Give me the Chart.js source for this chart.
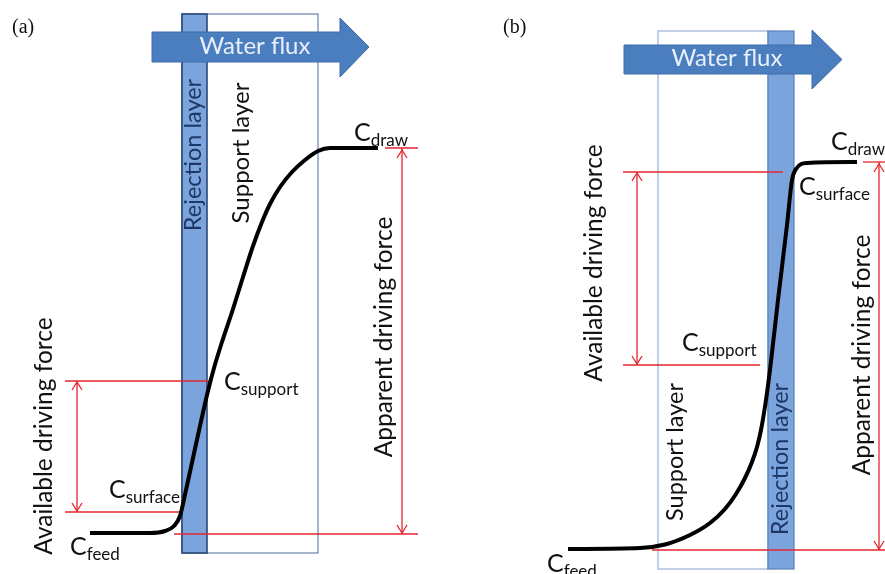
<!DOCTYPE html>
<html>
<head>
<meta charset="utf-8">
<script src="https://cdn.jsdelivr.net/npm/chart.js@4/dist/chart.umd.min.js"></script>
<style>
  html, body { margin: 0; padding: 0; background: #fff; }
  #wrap { width: 885px; height: 574px; position: relative; }
</style>
</head>
<body>
<div id="wrap"><canvas id="diagram"></canvas></div>
<script>
// ===== Data (page units: x = position across membrane, y = concentration level, down = lower) =====
const curveAX = [90,150,165,174,180,186,193,200,207,214,222,233,243,253,262,270,280,292,305,318,330,378];
const curveAY = [533,533,531,526,516,490,458,426,395,368,342,309,277,246,222,204,187,172,160,151,148,148];

const curveBX = [568,640,665,690,710,725,736,745,752,757,761,764,767,770,778,787,792,796,807,857];
const curveBY = [549,548,544.5,535,523,509,494,478,462,447,430,413,393,370,300,225,180,169,163,162];

// guide lines [x1, y1, x2, y2]
const guidesA = [[385,148,418,148],[402,148,402,534],[174,534,418,534],[65,381,209,381],[65,512,182,512],[77,381,77,512]];
const guidesB = [[863,162,885,162],[879,162,879,550],[652,550,885,550],[623,172,783,172],[623,365,760,365],[637,172,637,365]];

// double-headed arrows [x, yTop, yBottom]
const spansA = [[402,150,533],[77,382,511]];
const spansB = [[879,164,549],[637,173,364]];

// layers [x1, x2, yTop, yBottom]
const supportA = [182,318,14,553];
const rejectA  = [182,207,14,553];
const supportB = [658,768,31,569];
const rejectB  = [768,794,31,569];

// water flux arrows [bodyLeft, bodyRight, bodyTop, bodyBottom, tipX, headTop, headBottom]
const fluxA = [152,340,32,62,369,18,77];
const fluxB = [624,812,45,74,842,30,89];

const RED = '#e3262e';
const FONT = 'Lato, "Open Sans", sans-serif';

function pts(xs, ys) { return xs.map((x, i) => ({ x: x, y: ys[i] })); }

const guideSets = guidesA.concat(guidesB).map(g => ({
  data: [{ x: g[0], y: g[1] }, { x: g[2], y: g[3] }],
  showLine: true, borderColor: RED, borderWidth: 1.3, pointRadius: 0, order: 2
}));

// ===== Drawing helpers =====
function rotText(ctx, txt, x, y, size, color) {
  ctx.save();
  ctx.translate(x, y);
  ctx.rotate(-Math.PI / 2);
  ctx.font = size + 'px ' + FONT;
  ctx.fillStyle = color;
  ctx.textAlign = 'center';
  ctx.textBaseline = 'alphabetic';
  ctx.fillText(txt, 0, 0);
  ctx.restore();
}

function cLabel(ctx, sub, x, y) {
  ctx.save();
  ctx.fillStyle = '#111';
  ctx.textAlign = 'left';
  ctx.textBaseline = 'alphabetic';
  ctx.font = '25px ' + FONT;
  ctx.fillText('C', x, y);
  const w = ctx.measureText('C').width;
  ctx.font = '17px ' + FONT;
  ctx.fillText(sub, x + w, y + 5);
  ctx.restore();
}

const diagramPlugin = {
  id: 'diagram',
  beforeDatasetsDraw(chart) {
    const ctx = chart.ctx;
    const sx = v => chart.scales.x.getPixelForValue(v);
    const sy = v => chart.scales.y.getPixelForValue(v);

    function layer(r, fill, stroke, lw) {
      const x = sx(r[0]), y = sy(r[2]), w = sx(r[1]) - x, h = sy(r[3]) - y;
      ctx.save();
      if (fill) { ctx.fillStyle = fill; ctx.fillRect(x, y, w, h); }
      ctx.strokeStyle = stroke; ctx.lineWidth = lw;
      ctx.strokeRect(x, y, w, h);
      ctx.restore();
    }
    layer(supportA, null, '#4b6a9b', 1);
    layer(rejectA, '#7ba3dc', '#2b4677', 1.6);
    layer(supportB, null, '#86a2cc', 1);
    layer(rejectB, '#7ba3dc', '#5a80b8', 1.2);

    function flux(f) {
      ctx.save();
      ctx.beginPath();
      ctx.moveTo(sx(f[0]), sy(f[2]));
      ctx.lineTo(sx(f[1]), sy(f[2]));
      ctx.lineTo(sx(f[1]), sy(f[5]));
      ctx.lineTo(sx(f[4]), sy((f[2] + f[3]) / 2));
      ctx.lineTo(sx(f[1]), sy(f[6]));
      ctx.lineTo(sx(f[1]), sy(f[3]));
      ctx.lineTo(sx(f[0]), sy(f[3]));
      ctx.closePath();
      ctx.fillStyle = '#4a7ebf';
      ctx.fill();
      ctx.strokeStyle = '#3f6da8';
      ctx.lineWidth = 1;
      ctx.stroke();
      ctx.font = '24px ' + FONT;
      ctx.fillStyle = '#e8eff9';
      ctx.textAlign = 'center';
      ctx.textBaseline = 'alphabetic';
      ctx.fillText('Water flux', sx((f[0] + f[1]) / 2 + 9), sy(f[3]) - 8);
      ctx.restore();
    }
    flux(fluxA);
    flux(fluxB);
  },
  afterDatasetsDraw(chart) {
    const ctx = chart.ctx;
    const sx = v => chart.scales.x.getPixelForValue(v);
    const sy = v => chart.scales.y.getPixelForValue(v);

    // open arrow heads on the driving force spans
    ctx.save();
    ctx.strokeStyle = RED;
    ctx.lineWidth = 1.3;
    spansA.concat(spansB).forEach(s => {
      const x = sx(s[0]), t = sy(s[1]), b = sy(s[2]);
      ctx.beginPath();
      ctx.moveTo(x - 5, t + 8); ctx.lineTo(x, t); ctx.lineTo(x + 5, t + 8);
      ctx.moveTo(x - 5, b - 8); ctx.lineTo(x, b); ctx.lineTo(x + 5, b - 8);
      ctx.stroke();
    });
    ctx.restore();

    // panel letters
    ctx.save();
    ctx.font = '20px "Liberation Serif", "DejaVu Serif", serif';
    ctx.fillStyle = '#111';
    ctx.fillText('(a)', 12, 33);
    ctx.fillText('(b)', 503, 33);
    ctx.restore();

    // layer names
    rotText(ctx, 'Rejection layer', 201, 155, 23.5, '#1d3767');
    rotText(ctx, 'Support layer', 249, 153, 24, '#111');
    rotText(ctx, 'Support layer', 683, 452, 23.5, '#111');
    rotText(ctx, 'Rejection layer', 788, 459, 23.5, '#1d3767');

    // driving forces
    rotText(ctx, 'Apparent driving force', 392, 337, 24.5, '#111');
    rotText(ctx, 'Available driving force', 52, 436, 24.5, '#111');
    rotText(ctx, 'Available driving force', 602, 263, 24.5, '#111');
    rotText(ctx, 'Apparent driving force', 870, 355, 24.5, '#111');

    // concentrations
    cLabel(ctx, 'draw', 354, 141);
    cLabel(ctx, 'support', 224, 390);
    cLabel(ctx, 'surface', 109, 498);
    cLabel(ctx, 'feed', 70, 555);
    cLabel(ctx, 'draw', 831, 150);
    cLabel(ctx, 'surface', 799, 195);
    cLabel(ctx, 'support', 682, 351);
    cLabel(ctx, 'feed', 547, 572);
  }
};

new Chart(document.getElementById('diagram'), {
  type: 'scatter',
  data: {
    datasets: [
      {
        label: 'Profile (a)',
        data: pts(curveAX, curveAY),
        showLine: true, borderColor: '#000', borderWidth: 4,
        pointRadius: 0, cubicInterpolationMode: 'monotone', order: 0
      },
      {
        label: 'Profile (b)',
        data: pts(curveBX, curveBY),
        showLine: true, borderColor: '#000', borderWidth: 4,
        pointRadius: 0, cubicInterpolationMode: 'monotone', order: 0
      }
    ].concat(guideSets)
  },
  options: {
    responsive: true,
    maintainAspectRatio: false,
    animation: false,
    layout: { padding: 0 },
    plugins: { legend: { display: false }, tooltip: { enabled: false } },
    scales: {
      x: { type: 'linear', min: 0, max: 885, display: false },
      y: { type: 'linear', min: 0, max: 574, reverse: true, display: false }
    }
  },
  plugins: [diagramPlugin]
});
</script>
</body>
</html>
